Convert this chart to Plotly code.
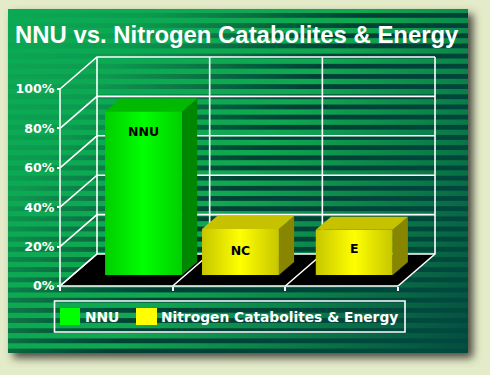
import base64
import plotly.graph_objects as go

# ---- data ----
categories = ["NNU", "NC", "E"]
values = [83, 23.4, 23]
bar_nudge = [0.13, -0.01, 0.0]
label_heights = [72, 12, 13]
series_names = ["NNU", "Nitrogen Catabolites & Energy"]
tick_values = [0, 20, 40, 60, 80, 100]
tick_labels = ["0%", "20%", "40%", "60%", "80%", "100%"]
title_text = "NNU vs. Nitrogen Catabolites & Energy"

W, H = 490, 375
PX_X0, PX_Y0 = 60, 286          # pixel position of the front-left origin
PX_PER_CAT, PX_PER_PCT = 112.67, 1.97
DEPTH_X, DEPTH_Y = 37, 32       # oblique offset of the back wall, pixels
Z0, Z1 = 0.34, 0.75             # bar depth extent
BAR_W = 0.683


def proj(x, y, z=0.0):
    """Oblique projection of (category, percent, depth) into axis units."""
    return x + z * DEPTH_X / PX_PER_CAT, y + z * DEPTH_Y / PX_PER_PCT


def line(points, color="#ffffff", width=1.6):
    xs, ys = zip(*[proj(*p) for p in points])
    return go.Scatter(x=xs, y=ys, mode="lines", line=dict(color=color, width=width),
                      hoverinfo="skip", showlegend=False)


def poly(points, color=None, gradient=None):
    pts = [proj(*p) for p in points]
    pts.append(pts[0])
    xs, ys = zip(*pts)
    kw = dict(fillgradient=gradient) if gradient else dict(fillcolor=color)
    return go.Scatter(x=xs, y=ys, mode="lines", fill="toself", line=dict(width=0),
                      hoverinfo="skip", showlegend=False, **kw)


fig = go.Figure()
n = len(categories)

# floor
fig.add_trace(poly([(0, 0, 0), (n, 0, 0), (n, 0, 1), (0, 0, 1)], "#000000"))
# back wall and left wall grid
for v in tick_values:
    fig.add_trace(line([(0, v, 0), (0, v, 1), (n, v, 1)]))
for i in range(n + 1):
    fig.add_trace(line([(i, 0, 0), (i, 0, 1), (i, 100, 1)]))
fig.add_trace(line([(0, 0, 0), (0, 100, 0)]))
fig.add_trace(line([(0, 0, 0), (n, 0, 0)]))

# bars
palette = [
    dict(edge="#00cf00", mid="#00ff00", top="#00b900", side="#008700"),
    dict(edge="#c6c600", mid="#ffff00", top="#c6c200", side="#888600"),
    dict(edge="#c6c600", mid="#ffff00", top="#c6c200", side="#888600"),
]
for i, (v, c) in enumerate(zip(values, palette)):
    x0 = i + 0.5 - BAR_W / 2 + bar_nudge[i]
    x1 = x0 + BAR_W
    fig.add_trace(poly([(x0, 0, Z0), (x1, 0, Z0), (x1, v, Z0), (x0, v, Z0)],
                       gradient=dict(type="horizontal",
                                     colorscale=[[0, c["edge"]], [0.5, c["mid"]], [1, c["edge"]]])))
    fig.add_trace(poly([(x1, 0, Z0), (x1, 0, Z1), (x1, v, Z1), (x1, v, Z0)], c["side"]))
    fig.add_trace(poly([(x0, v, Z0), (x1, v, Z0), (x1, v, Z1), (x0, v, Z1)], c["top"]))
    lx, ly = proj(x0 + BAR_W / 2, label_heights[i], Z0)
    fig.add_trace(go.Scatter(x=[lx], y=[ly], mode="text", text=[categories[i]],
                             textposition="middle center",
                             textfont=dict(family="DejaVu Sans", size=12.5, color="#000000", weight="bold"),
                             hoverinfo="skip", showlegend=False))

# background picture: page colour, blurred shadow, striped diagonal gradient panel
px0, py0, px1, py1 = 8, 9, 468, 353
STRIPE_START, STRIPE_PERIOD, STRIPE_H = 13, 10.17, 4.8
bands = "".join(
    f'<rect x="{px0}" y="{STRIPE_START + k * STRIPE_PERIOD:.2f}" width="{px1 - px0}" height="{STRIPE_H}" fill="url(#d)"/>'
    for k in range(34)
)
svg = f'''<svg xmlns="http://www.w3.org/2000/svg" width="{W}" height="{H}" viewBox="0 0 {W} {H}">
<defs>
<linearGradient id="l" gradientUnits="userSpaceOnUse" x1="{px0}" y1="{py0}" x2="{px1}" y2="{py1}">
<stop offset="0" stop-color="#0aaa55"/><stop offset="0.5" stop-color="#10a850"/><stop offset="1" stop-color="#054b40"/></linearGradient>
<linearGradient id="d" gradientUnits="userSpaceOnUse" x1="{px0}" y1="{py0}" x2="{px1}" y2="{py1}">
<stop offset="0" stop-color="#0aa852"/><stop offset="0.2" stop-color="#0a9a50"/><stop offset="0.5" stop-color="#044035"/><stop offset="1" stop-color="#054a3f"/></linearGradient>
<filter id="b" x="-10%" y="-10%" width="120%" height="120%"><feGaussianBlur stdDeviation="4.5"/></filter>
<filter id="s" x="-1%" y="-1%" width="102%" height="102%"><feGaussianBlur stdDeviation="0.5"/></filter>
<clipPath id="c"><rect x="{px0}" y="{py0}" width="{px1 - px0}" height="{py1 - py0}"/></clipPath>
</defs>
<rect width="{W}" height="{H}" fill="#e4ebc9"/>
<rect x="{px0 + 5}" y="{py0 + 5}" width="{px1 - px0}" height="{py1 - py0}" fill="#4a4a3e" filter="url(#b)"/>
<rect x="{px0}" y="{py0}" width="{px1 - px0}" height="{py1 - py0}" fill="url(#l)"/>
<g clip-path="url(#c)"><g filter="url(#s)">{bands}</g></g>
</svg>'''
bg = "data:image/svg+xml;base64," + base64.b64encode(svg.encode()).decode()


def px(x):
    return x / W


def py(y):
    return 1 - y / H


shapes = [
    dict(type="rect", xref="paper", yref="paper", x0=px(54.5), x1=px(405), y0=py(332), y1=py(301),
         line=dict(color="#ffffff", width=1.6), fillcolor="rgba(0,0,0,0)"),
    dict(type="rect", xref="paper", yref="paper", x0=px(60), x1=px(80), y0=py(325), y1=py(308),
         line=dict(width=0), fillcolor="#00ff00"),
    dict(type="rect", xref="paper", yref="paper", x0=px(136), x1=px(157), y0=py(325), y1=py(308),
         line=dict(width=0), fillcolor="#ffff00"),
]
legend_font = dict(family="DejaVu Sans", size=13.8, color="#ffffff", weight="bold")
annotations = [
    dict(text=title_text, xref="paper", yref="paper", x=px(13), y=py(34), xanchor="left", yanchor="middle",
         showarrow=False, font=dict(family="Liberation Sans", size=23.9, color="#ffffff", weight="bold")),
    dict(text=series_names[0], xref="paper", yref="paper", x=px(83), y=py(316.5), xanchor="left",
         yanchor="middle", showarrow=False, font=legend_font),
    dict(text=series_names[1], xref="paper", yref="paper", x=px(159), y=py(316.5), xanchor="left",
         yanchor="middle", showarrow=False, font=legend_font),
]

fig.update_layout(
    width=W, height=H, margin=dict(l=0, r=0, t=0, b=0, pad=0), showlegend=False,
    paper_bgcolor="#e4ebc9", plot_bgcolor="rgba(0,0,0,0)",
    images=[dict(source=bg, xref="paper", yref="paper", x=0, y=1, sizex=1, sizey=1,
                 xanchor="left", yanchor="top", sizing="stretch", layer="below")],
    shapes=shapes, annotations=annotations,
    xaxis=dict(range=[-PX_X0 / PX_PER_CAT, (W - PX_X0) / PX_PER_CAT], domain=[0, 1],
               showgrid=False, zeroline=False, anchor="free", position=(H - PX_Y0) / H,
               tickmode="array", tickvals=list(range(n + 1)), ticktext=[""] * (n + 1),
               ticks="outside", ticklen=4, tickwidth=1.6, tickcolor="#ffffff"),
    yaxis=dict(range=[-(H - PX_Y0) / PX_PER_PCT, PX_Y0 / PX_PER_PCT], domain=[0, 1],
               showgrid=False, zeroline=False, anchor="free", position=PX_X0 / W,
               tickmode="array", tickvals=tick_values, ticktext=tick_labels,
               ticks="outside", ticklen=3, tickwidth=1.6, tickcolor="#ffffff",
               tickfont=dict(family="DejaVu Sans", size=12.6, color="#ffffff", weight="bold")),
)

fig.write_html("out.html", config=dict(displayModeBar=False),
               post_script="document.body.style.margin='0';document.body.style.overflow='hidden';")
